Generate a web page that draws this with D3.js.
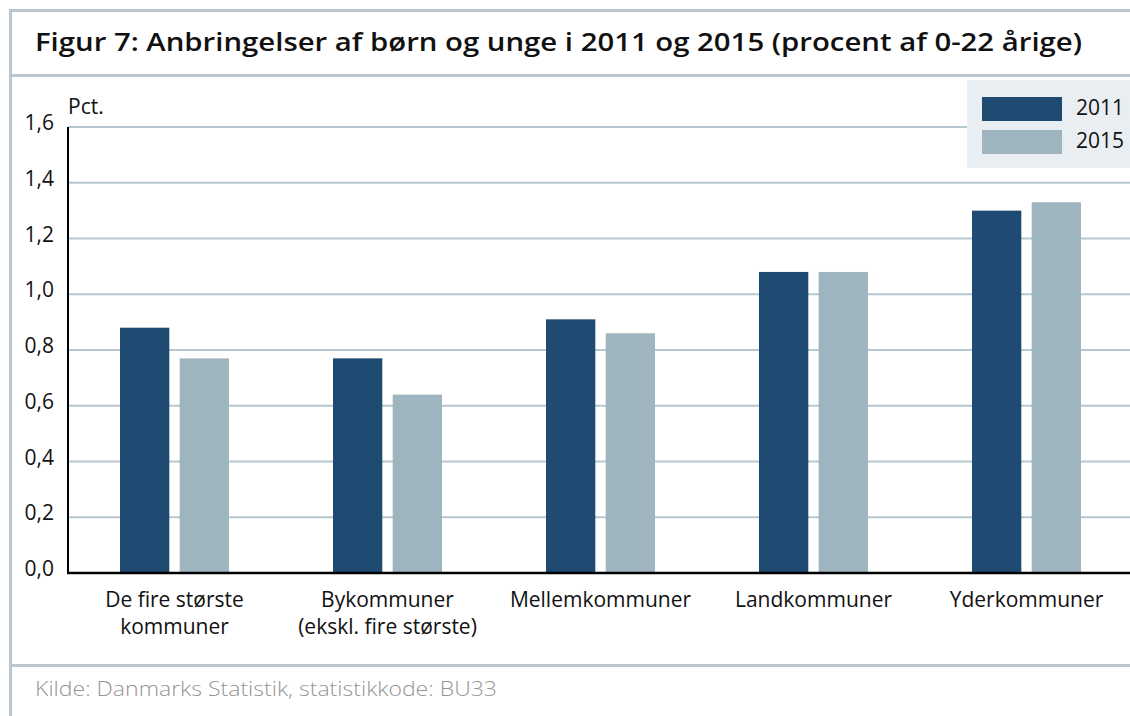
<!DOCTYPE html>
<html>
<head>
<meta charset="utf-8">
<script src="https://cdn.jsdelivr.net/npm/d3@7"></script>
<style>
body { margin: 0; background: #fff; }
text { font-family: "Open Sans", "Noto Sans", sans-serif; }
</style>
</head>
<body>
<div id="chart-area"></div>
<script>
// data
var categories = [
    ["De fire største", "kommuner"],
    ["Bykommuner", "(ekskl. fire største)"],
    ["Mellemkommuner"],
    ["Landkommuner"],
    ["Yderkommuner"]
];
var years = ["2011", "2015"];
var values2011 = [0.88, 0.77, 0.91, 1.08, 1.30];
var values2015 = [0.77, 0.64, 0.86, 1.08, 1.33];
var yTicks = [0, 0.2, 0.4, 0.6, 0.8, 1.0, 1.2, 1.4, 1.6];

var colors = { "2011": "#1f4a72", "2015": "#9eb4be" };
var border = "#b9c8cf";

var svg = d3.select("#chart-area").append("svg")
    .attr("width", 1130)
    .attr("height", 716);

// frame
svg.append("rect").attr("x", 9).attr("y", 9).attr("width", 1125).attr("height", 3).attr("fill", border);
svg.append("rect").attr("x", 9).attr("y", 9).attr("width", 3).attr("height", 710).attr("fill", border);
svg.append("rect").attr("x", 9).attr("y", 74).attr("width", 1125).attr("height", 3).attr("fill", border);
svg.append("rect").attr("x", 9).attr("y", 664).attr("width", 1125).attr("height", 3).attr("fill", border);

svg.append("text")
    .attr("x", 35).attr("y", 51)
    .attr("font-size", 26).attr("font-weight", 600)
    .attr("textLength", 1047).attr("lengthAdjust", "spacingAndGlyphs")
    .attr("fill", "#111")
    .text("Figur 7: Anbringelser af børn og unge i 2011 og 2015 (procent af 0-22 årige)");

svg.append("text")
    .attr("x", 35).attr("y", 696)
    .attr("font-size", 21).attr("font-weight", 300)
    .attr("textLength", 462).attr("lengthAdjust", "spacingAndGlyphs")
    .attr("fill", "#959595")
    .text("Kilde: Danmarks Statistik, statistikkode: BU33");

var x0 = 68, x1 = 1133, yBottom = 573, yTop = 127;

var x = d3.scaleBand()
    .domain(d3.range(categories.length))
    .range([x0, x1]);

var xInner = d3.scaleBand()
    .domain(years)
    .range([52, 161])
    .paddingInner(0.174);

var y = d3.scaleLinear()
    .domain([0, 1.6])
    .range([yBottom, yTop]);

// gridlines
svg.append("g").selectAll("line")
    .data(yTicks.filter(d => d > 0))
    .enter().append("line")
    .attr("x1", x0).attr("x2", 1130)
    .attr("y1", d => y(d)).attr("y2", d => y(d))
    .attr("stroke", "#b5c7cf").attr("stroke-width", 2);

// y tick labels
svg.append("g").selectAll("text")
    .data(yTicks)
    .enter().append("text")
    .attr("x", 54)
    .attr("y", d => y(d) + 3)
    .attr("text-anchor", "end")
    .attr("font-size", 21)
    .attr("fill", "#111")
    .text(d => d3.format(".1f")(d).replace(".", ","));

svg.append("text")
    .attr("x", 68).attr("y", 114)
    .attr("font-size", 21).attr("fill", "#111")
    .text("Pct.");

// bars
var rows = [];
values2011.forEach((v, i) => {
    rows.push({ i: i, year: "2011", value: v });
    rows.push({ i: i, year: "2015", value: values2015[i] });
});

svg.append("g").selectAll("rect")
    .data(rows)
    .enter().append("rect")
    .attr("x", d => x(d.i) + xInner(d.year))
    .attr("y", d => y(d.value))
    .attr("width", xInner.bandwidth())
    .attr("height", d => y(0) - y(d.value))
    .attr("fill", d => colors[d.year]);

// axes lines
svg.append("line")
    .attr("x1", x0).attr("x2", x0)
    .attr("y1", yTop).attr("y2", yBottom + 1)
    .attr("stroke", "#000").attr("stroke-width", 2);
svg.append("line")
    .attr("x1", x0 - 1).attr("x2", 1130)
    .attr("y1", yBottom).attr("y2", yBottom)
    .attr("stroke", "#000").attr("stroke-width", 2.5);

// category labels, one text per line
var catRows = [];
categories.forEach((lines, i) => {
    lines.forEach((t, j) => catRows.push({ i: i, j: j, t: t }));
});
svg.append("g").selectAll("text")
    .data(catRows)
    .enter().append("text")
    .attr("x", d => x(d.i) + x.bandwidth() / 2)
    .attr("y", d => 607 + d.j * 27)
    .attr("text-anchor", "middle")
    .attr("font-size", 21)
    .attr("fill", "#111")
    .text(d => d.t);

// legend
var legend = svg.append("g");
legend.append("rect")
    .attr("x", 967).attr("y", 80).attr("width", 163).attr("height", 88)
    .attr("fill", "#e8eef1");
years.forEach((yr, k) => {
    legend.append("rect")
        .attr("x", 982).attr("y", 97 + k * 33)
        .attr("width", 80).attr("height", 24)
        .attr("fill", colors[yr]);
    legend.append("text")
        .attr("x", 1076).attr("y", 115 + k * 33)
        .attr("font-size", 21).attr("fill", "#111")
        .text(yr);
});
</script>
</body>
</html>
